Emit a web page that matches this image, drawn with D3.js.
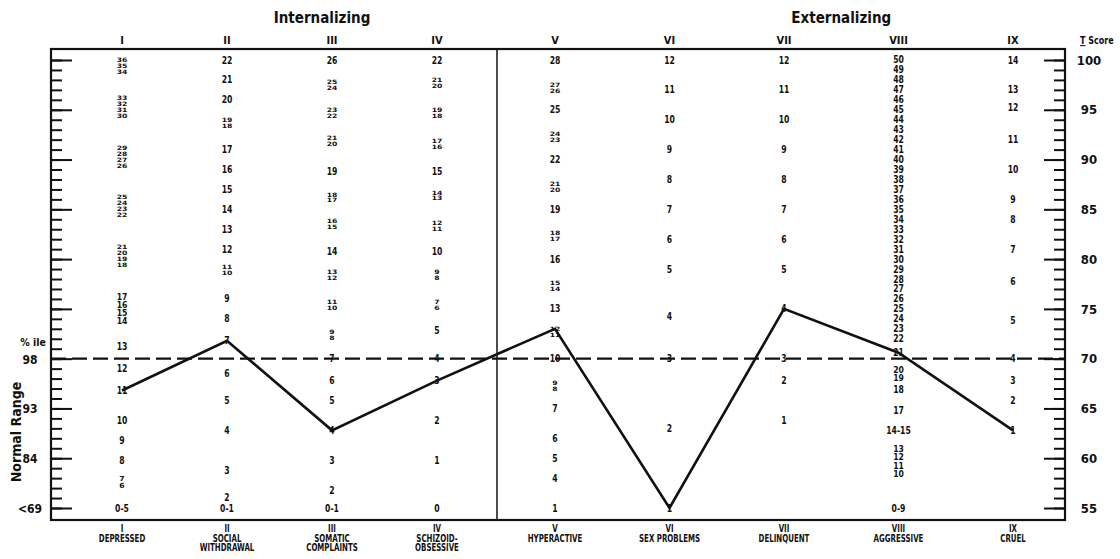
<!DOCTYPE html>
<html><head><meta charset="utf-8">
<script src="https://cdn.jsdelivr.net/npm/d3@7"></script>
<style>
body{margin:0;background:#fff;}
text{font-family:"Liberation Sans Narrow","DejaVu Sans Condensed","Arial Narrow",sans-serif;font-weight:bold;fill:#111;}
</style></head><body>
<svg id="chart" width="1120" height="559"></svg>
<script>
// ---------- data ----------
const groupTitles = ["Internalizing", "Externalizing"];
const internalScales = ["I", "II", "III", "IV"];
const externalScales = ["V", "VI", "VII", "VIII", "IX"];
const scaleNames = [["DEPRESSED"], ["SOCIAL", "WITHDRAWAL"], ["SOMATIC", "COMPLAINTS"], ["SCHIZOID-", "OBSESSIVE"],
  ["HYPERACTIVE"], ["SEX PROBLEMS"], ["DELINQUENT"], ["AGGRESSIVE"], ["CRUEL"]];
const tScoreLabels = [100, 95, 90, 85, 80, 75, 70, 65, 60, 55];
const percentileLabels = ["98", "93", "84", "<69"];
const percentileT = [70, 65, 60, 55];
const cutoffT = 70;

// raw score label, T score position
const rawDepressed = [["36",100],["35",99.4],["34",98.8],["33",96.2],["32",95.6],["31",95.0],["30",94.4],
  ["29",91.2],["28",90.6],["27",90.0],["26",89.4],["25",86.2],["24",85.6],["23",85.0],["22",84.4],
  ["21",81.2],["20",80.6],["19",80.0],["18",79.4],["17",76.2],["16",75.4],["15",74.6],["14",73.8],
  ["13",71.2],["12",69.0],["11",66.8],["10",63.8],["9",61.8],["8",59.8],["7",58.0],["6",57.3],["0-5",55]];
const rawWithdrawal = [["22",100],["21",98],["20",96],["19",94],["18",93.4],["17",91],["16",89],["15",87],
  ["14",85],["13",83],["12",81],["11",79.2],["10",78.6],["9",76],["8",74],["7",71.8],["6",68.5],["5",65.8],
  ["4",62.8],["3",58.8],["2",56.1],["0-1",55]];
const rawSomatic = [["26",100],["25",97.8],["24",97.2],["23",95],["22",94.4],["21",92.2],["20",91.6],["19",88.8],
  ["18",86.5],["17",85.9],["16",83.8],["15",83.2],["14",80.8],["13",78.7],["12",78.1],["11",75.7],["10",75.1],
  ["9",72.7],["8",72.1],["7",70],["6",67.8],["5",65.8],["4",62.8],["3",59.8],["2",56.8],["0-1",55]];
const rawSchizoid = [["22",100],["21",98],["20",97.4],["19",95],["18",94.4],["17",91.9],["16",91.3],["15",88.8],
  ["14",86.7],["13",86.1],["12",83.6],["11",83],["10",80.8],["9",78.7],["8",78.1],["7",75.7],["6",75.1],
  ["5",72.8],["4",70],["3",67.8],["2",63.8],["1",59.8],["0",55]];
const rawHyperactive = [["28",100],["27",97.5],["26",96.9],["25",95],["24",92.6],["23",92],["22",90],["21",87.6],
  ["20",87],["19",85],["18",82.6],["17",82],["16",80],["15",77.6],["14",77],["13",75],["12",73],["11",72.4],
  ["10",70],["9",67.6],["8",67],["7",65],["6",62],["5",60],["4",58],["1",55]];
const rawSex = [["12",100],["11",97],["10",94],["9",91],["8",88],["7",85],["6",82],["5",79],["4",74.2],["3",70],["2",63],["1",55]];
const rawDelinquent = [["12",100],["11",97],["10",94],["9",91],["8",88],["7",85],["6",82],["5",79],["4",75],["3",70],["2",67.8],["1",63.8]];
const rawAggressive = [["50",100],["49",99],["48",98],["47",97],["46",96],["45",95],["44",94],["43",93],["42",92],
  ["41",91],["40",90],["39",89],["38",88],["37",87],["36",86],["35",85],["34",84],["33",83],["32",82],["31",81],
  ["30",80],["29",79],["28",78],["27",77],["26",76],["25",75],["24",74],["23",73],["22",72],["21",70.6],
  ["20",68.8],["19",68],["18",66.9],["17",64.8],["14-15",62.8],["13",60.9],["12",60.1],["11",59.2],["10",58.4],["0-9",55]];
const rawCruel = [["14",100],["13",97],["12",95.2],["11",92],["10",89],["9",86],["8",84],["7",81],["6",77.8],
  ["5",73.8],["4",70],["3",67.8],["2",65.8],["1",62.8]];

const childRaw = ["11", "7", "4", "3", "12", "1", "4", "21", "1"];

// ---------- chart ----------
const columns = [rawDepressed, rawWithdrawal, rawSomatic, rawSchizoid, rawHyperactive, rawSex, rawDelinquent, rawAggressive, rawCruel];
const allScales = internalScales.concat(externalScales);
const svg = d3.select("#chart");
const L = 51, R = 1065, TOP = 49, BOT = 520, DIV = 497;
const y = d3.scaleLinear().domain([55, 100]).range([508, 60]);
const xInt = d3.scalePoint().domain(internalScales).range([122, 437]);
const xExt = d3.scalePoint().domain(externalScales).range([555, 1013]);
const xPos = s => internalScales.includes(s) ? xInt(s) : xExt(s);

// frame
svg.append("rect").attr("x", L).attr("y", TOP).attr("width", R - L).attr("height", BOT - TOP)
  .attr("fill", "none").attr("stroke", "#111").attr("stroke-width", 2.2);
svg.append("line").attr("x1", DIV).attr("x2", DIV).attr("y1", TOP).attr("y2", BOT)
  .attr("stroke", "#111").attr("stroke-width", 1.5);

const minorT = d3.range(55, 101);
function styleAxis(g) {
  g.select(".domain").remove();
  g.selectAll(".tick line").attr("stroke", "#111").attr("stroke-width", 2);
}
// left ticks (inside)
svg.append("g").attr("transform", `translate(${L},0)`)
  .call(d3.axisRight(y).tickValues(minorT).tickSize(11).tickFormat("")).call(styleAxis);
svg.append("g").attr("transform", `translate(${L},0)`)
  .call(d3.axisRight(y).tickValues(tScoreLabels).tickSize(21).tickFormat("")).call(styleAxis);
// right ticks (inside) with labels outside
svg.append("g").attr("transform", `translate(${R},0)`)
  .call(d3.axisLeft(y).tickValues(minorT).tickSize(11).tickFormat("")).call(styleAxis);
const rAx = svg.append("g").attr("transform", `translate(${R},0)`)
  .call(d3.axisLeft(y).tickValues(tScoreLabels).tickSize(21)).call(styleAxis);
rAx.attr("font-family", null).attr("font-size", null);
rAx.selectAll(".tick text").attr("x", 24).attr("text-anchor", "middle")
  .style("font-size", "13px").attr("fill", "#111");

// T score header
const ts = svg.append("text").attr("transform", "translate(1080,44) scale(0.85,1)").style("font-size", "10.5px");
ts.append("tspan").text("T").style("text-decoration", "underline");
ts.append("tspan").text(" Score");

// percentile labels
svg.selectAll(".pct").data(percentileLabels).join("text").attr("class", "pct")
  .attr("x", 30).attr("y", (d, i) => y(percentileT[i]) + 5)
  .attr("text-anchor", "middle").style("font-size", "12px").text(d => d);
svg.append("text").attr("x", 33).attr("y", y(cutoffT) - 13).attr("text-anchor", "middle")
  .style("font-size", "10.5px").text("% ile");
svg.append("text").attr("transform", `translate(21,${432}) rotate(-90)`).attr("text-anchor", "middle")
  .style("font-size", "14px").text("Normal Range");

// cutoff dashed line
svg.append("line").attr("x1", L).attr("x2", R).attr("y1", y(cutoffT)).attr("y2", y(cutoffT))
  .attr("stroke", "#111").attr("stroke-width", 2.2).attr("stroke-dasharray", "15,6");

// group titles
svg.selectAll(".gt").data(groupTitles).join("text").attr("class", "gt")
  .attr("x", (d, i) => i === 0 ? (xInt("II") + xInt("IV")) / 2 - 10 : (xExt("VII") + xExt("VIII")) / 2)
  .attr("y", 23).attr("text-anchor", "middle").style("font-size", "15px").text(d => d);

// top numerals
svg.selectAll(".tn").data(allScales).join("text").attr("class", "tn")
  .attr("x", d => xPos(d)).attr("y", 44).attr("text-anchor", "middle").style("font-size", "11px").text(d => d);

// bottom labels
allScales.forEach((s, i) => {
  const t = svg.append("text").attr("text-anchor", "middle").style("font-size", "8.5px")
    .attr("transform", `translate(${xPos(s)},0) scale(0.92,1.15)`);
  t.append("tspan").attr("x", 0).attr("y", 532 / 1.15).text(s);
  scaleNames[i].forEach((n, j) => t.append("tspan").attr("x", 0).attr("y", (542 + 9 * j) / 1.15).text(n));
});

// raw score labels (tightly stacked ones are squashed vertically, as printed)
columns.forEach((col, ci) => {
  const cx = xPos(allScales[ci]);
  const ts2 = col.map(d => d[1]);
  col.forEach((d, k) => {
    let gap = 99;
    if (k > 0) gap = Math.min(gap, ts2[k - 1] - d[1]);
    if (k < col.length - 1) gap = Math.min(gap, d[1] - ts2[k + 1]);
    const px = Math.abs(y(d[1] - gap) - y(d[1]));
    const sy = Math.min(1.05, px / 9.5);
    svg.append("text").attr("transform", `translate(${cx},${y(d[1])}) scale(0.9,${sy})`)
      .attr("text-anchor", "middle").attr("dy", "0.35em").style("font-size", "9.5px").text(d[0]);
  });
});

// child profile line
const pts = allScales.map((s, i) => {
  const hit = columns[i].find(d => d[0] === childRaw[i]);
  return [xPos(s), y(hit[1])];
});
svg.append("path").attr("d", d3.line()(pts)).attr("fill", "none")
  .attr("stroke", "#111").attr("stroke-width", 2.6).attr("stroke-linejoin", "miter");
</script>
</body></html>
